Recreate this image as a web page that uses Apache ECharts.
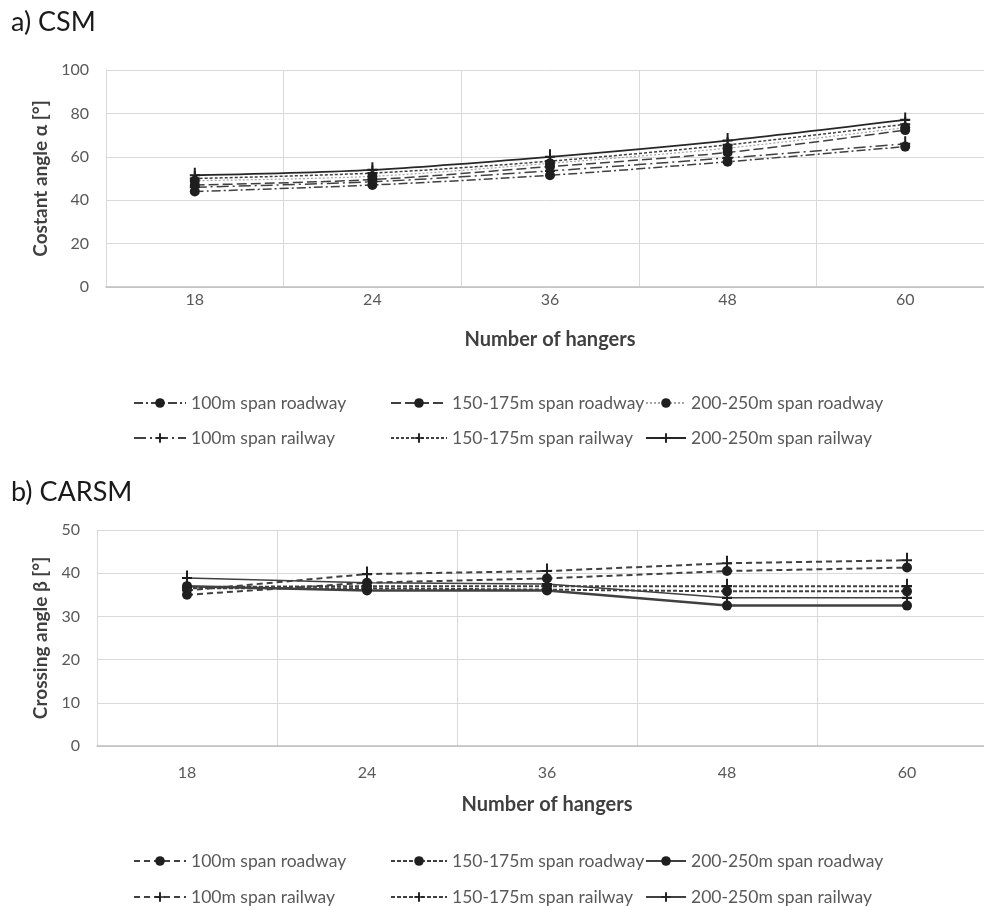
<!DOCTYPE html>
<html>
<head>
<meta charset="utf-8">
<script src="https://cdn.jsdelivr.net/npm/echarts@6/dist/echarts.min.js"></script>
<style>
  body { margin: 0; background: #fff; }
  #csm { width: 984px; height: 465px; }
  #carsm { width: 984px; height: 441px; }
</style>
</head>
<body>
<div id="csm"></div>
<div id="carsm"></div>
<script>
// number of hangers (x categories)
const hangers = ["18", "24", "36", "48", "60"];

// a) CSM - costant angle alpha [deg]
const csmRoad100 = [44, 47, 51.5, 57.7, 64.7];
const csmRoad150 = [47, 49.5, 55.5, 62, 72.3];
const csmRoad200 = [49, 51, 57, 64, 73.5];
const csmRail100 = [46, 48.5, 53.5, 59.5, 66];
const csmRail150 = [50, 52.5, 58, 65.5, 75];
const csmRail200 = [51.5, 54, 60, 67.5, 77];

// b) CARSM - crossing angle beta [deg]
const carsmRoad100 = [35, 37.8, 38.8, 40.5, 41.3];
const carsmRoad150 = [36.5, 36.5, 36.2, 35.8, 35.8];
const carsmRoad200 = [37, 36, 36, 32.5, 32.5];
const carsmRail100 = [36, 39.8, 40.5, 42.3, 43];
const carsmRail150 = [36.8, 37, 37, 37, 37];
const carsmRail200 = [38.9, 37.8, 37.5, 34.3, 34.3];

const names = [
  "100m span roadway", "150-175m span roadway", "200-250m span roadway",
  "100m span railway", "150-175m span railway", "200-250m span railway"
];

const FONT = "Lato";
const PLUS = "path://M4,0 L6,0 L6,6 L10,6 L10,8 L6,8 L6,14 L4,14 L4,8 L0,8 L0,6 L4,6 Z";

function line(name, data, marker, dash, color, width, smooth) {
  return {
    name: name,
    type: "line",
    data: data,
    smooth: smooth,
    symbol: marker === "circle" ? "circle" : PLUS,
    symbolSize: marker === "circle" ? 10 : [10, 15],
    itemStyle: { color: "#1f1f1f" },
    lineStyle: { color: color, width: width, type: dash },
    z: marker === "circle" ? 3 : 4
  };
}

// one legend per entry so the three columns line up like the original
function legends(rowTops) {
  const cols = [128, 385, 640];
  const iconW = [52, 56, 40];
  let out = [];
  names.forEach((n, i) => {
    out.push({
      data: [n],
      left: cols[i % 3],
      top: rowTops[Math.floor(i / 3)],
      itemWidth: iconW[i % 3],
      itemHeight: 12,
      itemGap: 4,
      textStyle: { fontFamily: FONT, fontSize: 17.5, color: "#595959" }
    });
  });
  return out;
}

function baseOption(title, titleTop, grid, yName, yMax, yInterval, nameGapY, labelMargin, nameGapX) {
  return {
    animation: false,
    title: {
      text: title,
      left: 6,
      top: titleTop,
      textStyle: { fontFamily: FONT, fontSize: 27, fontWeight: "normal", color: "#1a1a1a" }
    },
    grid: grid,
    xAxis: {
      type: "category",
      data: hangers,
      boundaryGap: true,
      name: "Number of hangers",
      nameLocation: "middle",
      nameGap: nameGapX,
      nameTextStyle: { fontFamily: FONT, fontSize: 20, fontWeight: "bold", color: "#404040" },
      axisLine: { lineStyle: { color: "#bfbfbf", width: 1.5 } },
      axisTick: { show: false },
      axisLabel: { fontFamily: FONT, fontSize: 16, color: "#595959", margin: labelMargin },
      splitLine: { show: true, lineStyle: { color: "#d9d9d9" } }
    },
    yAxis: {
      type: "value",
      min: 0,
      max: yMax,
      interval: yInterval,
      name: yName,
      nameLocation: "middle",
      nameGap: nameGapY,
      nameTextStyle: { fontFamily: FONT, fontSize: 19, fontWeight: "bold", color: "#404040" },
      axisLine: { show: true, lineStyle: { color: "#d9d9d9" } },
      axisTick: { show: false },
      axisLabel: { fontFamily: FONT, fontSize: 16, color: "#595959", margin: 17 },
      splitLine: { lineStyle: { color: "#d9d9d9" } }
    }
  };
}

const csmChart = echarts.init(document.getElementById("csm"));
let csmOption = baseOption("a) CSM", 4,
  { left: 106, width: 888, top: 70, height: 217, outerBoundsMode: "none" },
  "Costant angle \u03b1 [\u00b0]", 100, 20, 51, 5, 43);
csmOption.legend = legends([389, 424]);
csmOption.series = [
  line(names[0], csmRoad100, "circle", [9, 3, 2, 3], "#404040", 1.5, 0.3),
  line(names[1], csmRoad150, "circle", [10, 4], "#404040", 1.5, 0.3),
  line(names[2], csmRoad200, "circle", [2, 2], "#a6a6a6", 1.2, 0.3),
  line(names[3], csmRail100, "plus", [12, 4, 2, 4], "#404040", 1.5, 0.3),
  line(names[4], csmRail150, "plus", [3, 2], "#404040", 1.5, 0.3),
  line(names[5], csmRail200, "plus", "solid", "#262626", 1.8, 0.3)
];
csmChart.setOption(csmOption);

const carsmChart = echarts.init(document.getElementById("carsm"));
let carsmOption = baseOption("b) CARSM", 9,
  { left: 97, width: 900, top: 65, height: 216, outerBoundsMode: "none" },
  "Crossing angle \u03b2 [\u00b0]", 50, 10, 43, 19, 49);
carsmOption.legend = legends([382, 418]);
carsmOption.series = [
  line(names[0], carsmRoad100, "circle", [6, 4], "#404040", 2, false),
  line(names[1], carsmRoad150, "circle", [4, 2], "#404040", 2, false),
  line(names[2], carsmRoad200, "circle", "solid", "#404040", 2.5, false),
  line(names[3], carsmRail100, "plus", [6, 4], "#404040", 2, false),
  line(names[4], carsmRail150, "plus", [4, 2], "#404040", 2, false),
  line(names[5], carsmRail200, "plus", "solid", "#404040", 1.5, false)
];
carsmChart.setOption(carsmOption);
</script>
</body>
</html>
